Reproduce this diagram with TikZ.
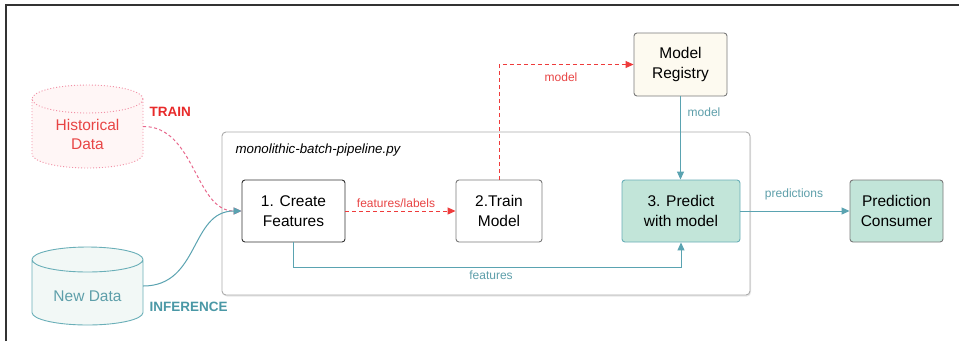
\documentclass[tikz,border=0pt]{standalone}
\usepackage{fontspec}
\setmainfont{Liberation Sans}
\usetikzlibrary{arrows.meta,shadows}

\definecolor{framecol}{HTML}{333333}
\definecolor{redline}{HTML}{EE3B3B}
\definecolor{redtext}{HTML}{E84545}
\definecolor{trainred}{HTML}{E82A2A}
\definecolor{pinkline}{HTML}{E8678C}
\definecolor{pinkfill}{HTML}{FFF6F6}
\definecolor{pinkedge}{HTML}{F290A6}
\definecolor{tealline}{HTML}{5AA3B1}
\definecolor{tealtext}{HTML}{5E9FAA}
\definecolor{tealbold}{HTML}{4A98A6}
\definecolor{tealfill}{HTML}{F2F8F6}
\definecolor{tealedge}{HTML}{6AAFB8}
\definecolor{greenfill}{HTML}{C2E5D9}
\definecolor{creamfill}{HTML}{FDFAF0}
\definecolor{boxgray}{HTML}{7A7A7A}
\definecolor{containergray}{HTML}{ABABAB}

\tikzset{
  box/.style={draw, rounded corners=3pt, line width=0.9pt, align=center,
    inner sep=0pt, minimum height=62pt,
    font=\fontsize{15.5}{19.5}\selectfont, text=black},
  lbl/.style={font=\fontsize{12}{14}\selectfont},
  tag/.style={font=\fontsize{13.5}{16}\selectfont\bfseries},
  tip/.style={-{Triangle[length=8pt,width=7pt]}},
  conn/.style={line width=1pt, tip},
}

\begin{document}
\begin{tikzpicture}[x=1pt,y=-1pt]
\useasboundingbox (0,0) rectangle (959,341);
\fill[white] (0,0) rectangle (959,341);

% outer frame (top and left edges)
\draw[framecol, line width=1.6pt] (6,341) -- (6,5) -- (959,5);

% pipeline container
\node[draw=containergray, fill=white, rounded corners=4pt, line width=0.9pt,
  minimum width=528pt, minimum height=163pt, inner sep=0pt,
  drop shadow={opacity=0.18, shadow xshift=1pt, shadow yshift=-1.5pt}]
  (pipe) at (486,213.5) {};
\node[anchor=west, font=\fontsize{13.3}{15}\selectfont\itshape]
  (pipename) at (232,150) {monolithic-batch-pipeline.py};

% historical data drum (dotted outline)
\path[fill=pinkfill] (32,99) -- (32,154)
  arc[start angle=180, end angle=360, x radius=55.5pt, y radius=14pt]
  -- (143,99)
  arc[start angle=0, end angle=180, x radius=55.5pt, y radius=14pt] -- cycle;
\draw[pinkedge, line width=0.9pt, dash pattern=on 1pt off 2pt]
  (32,99) -- (32,154)
  arc[start angle=180, end angle=360, x radius=55.5pt, y radius=14pt]
  -- (143,99)
  (87.5,99) ellipse[x radius=55.5pt, y radius=14pt];
\node[minimum width=111pt, minimum height=83pt, inner sep=0pt] (hist) at (87.5,126.5) {};
\node[align=center, text=redtext, font=\fontsize{15.5}{19.5}\selectfont]
  (histtext) at (87.5,134.5) {Historical\\Data};
\node[tag, text=trainred, anchor=west] (train) at (146,112) {TRAIN};

% new data drum
\path[fill=tealfill] (32,259.5) -- (32,312.5)
  arc[start angle=180, end angle=360, x radius=55.5pt, y radius=12.5pt]
  -- (143,259.5)
  arc[start angle=0, end angle=180, x radius=55.5pt, y radius=12.5pt] -- cycle;
\draw[tealedge, line width=0.9pt]
  (32,259.5) -- (32,312.5)
  arc[start angle=180, end angle=360, x radius=55.5pt, y radius=12.5pt]
  -- (143,259.5)
  (87.5,259.5) ellipse[x radius=55.5pt, y radius=12.5pt];
\node[minimum width=111pt, minimum height=78pt, inner sep=0pt] (newd) at (87.5,286) {};
\node[text=tealtext, font=\fontsize{15.5}{19.5}\selectfont]
  (newdtext) at (87.5,296) {New Data};
\node[tag, text=tealbold, anchor=west] (infer) at (146,307) {INFERENCE};

% pipeline steps
\node[box, draw=framecol, fill=white, minimum width=103pt] (cf) at (293.5,211) {1. Create\\Features};
\node[box, draw=boxgray, fill=white, minimum width=86pt] (tm) at (499,211) {2.Train\\Model};
\node[box, draw=tealedge, fill=greenfill, minimum width=118pt] (pr) at (681,211) {3. Predict\\with model};
\node[box, draw=boxgray, fill=greenfill, minimum width=93pt] (cons) at (896.5,211) {Prediction\\Consumer};
\node[box, draw=boxgray, fill=creamfill, minimum width=93pt, minimum height=63pt]
  (reg) at (680.5,64.5) {Model\\Registry};

% level of the features route below the steps
\coordinate (flevel) at (0,267.5);

% training path (dashed)
\draw[conn, pinkline, dash pattern=on 3pt off 2.5pt]
  (hist.east) .. controls (195,126) and (195,211) .. (cf.west);
\draw[conn, redline, dash pattern=on 4pt off 3pt] (cf.east) -- (tm.west);
\node[lbl, text=redtext] (fl) at (396,203) {features/labels};
\draw[conn, redline, dash pattern=on 4pt off 3pt] (tm.north) |- (reg.west);
\node[lbl, text=redtext] (mred) at (561,77) {model};

% inference path
\draw[conn, tealline] (newd.east) .. controls (200,286) and (190,211) .. (cf.west);
\draw[conn, tealline] (reg.south) -- (pr.north -| reg.south);
\node[lbl, text=tealtext] (mteal) at (704,112) {model};
\draw[tealline, line width=1pt] (cf.south) |- (pr.south |- flevel);
\draw[conn, tealline] (pr.south |- flevel) -- (pr.south);
\node[lbl, text=tealtext] (feat) at (491,275) {features};
\draw[conn, tealline] (pr.east) -- (cons.west);
\node[lbl, text=tealtext] (pred) at (794,194) {predictions};
\end{tikzpicture}
\end{document}
